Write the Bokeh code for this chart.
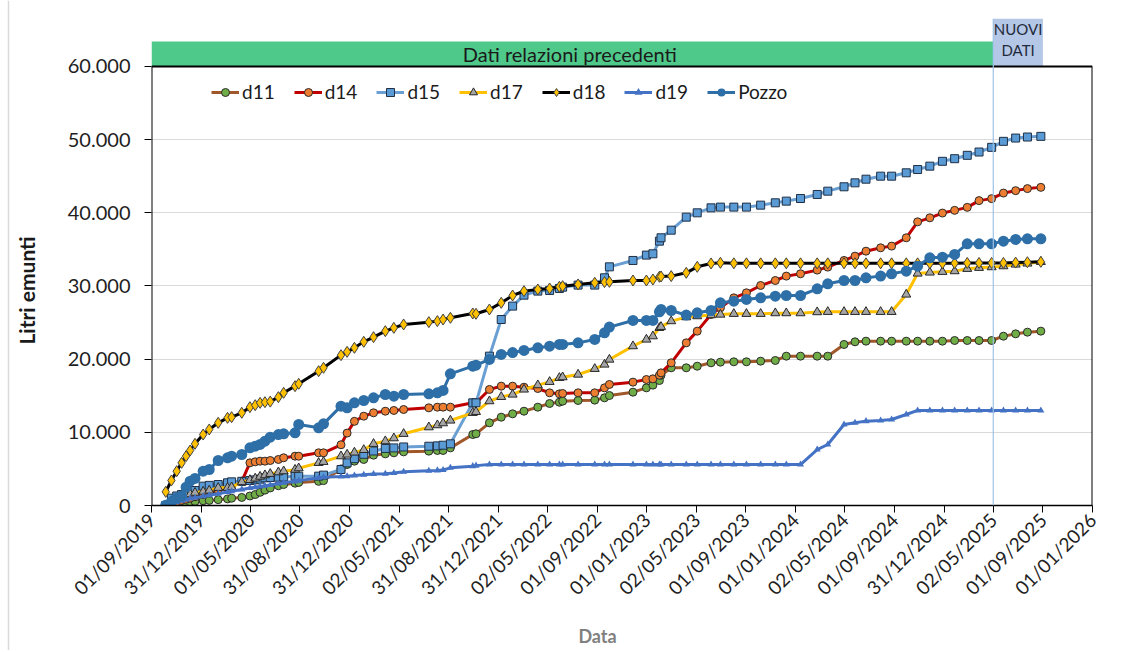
import math
import pandas as pd
from bokeh.plotting import figure
from bokeh.layouts import column, row
from bokeh.models import ColumnDataSource, FixedTicker, Legend, LegendItem, Span, Range1d
from bokeh.core.properties import value
from bokeh.embed import file_html
from bokeh.resources import INLINE

# ---------------- data ----------------
START = "2019-09-01"
END = "2026-01-01"
NEW_DATA_START = "2025-05-02"
NEW_DATA_END = "2025-09-01"

x_tick_labels = ["01/09/2019", "31/12/2019", "01/05/2020", "31/08/2020", "31/12/2020",
                 "02/05/2021", "31/08/2021", "31/12/2021", "02/05/2022", "01/09/2022",
                 "01/01/2023", "02/05/2023", "01/09/2023", "01/01/2024", "02/05/2024",
                 "01/09/2024", "31/12/2024", "02/05/2025", "01/09/2025", "01/01/2026"]
y_tick_values = [0, 10000, 20000, 30000, 40000, 50000, 60000]

early_dates = ["2019-10-06", "2019-10-20", "2019-11-02", "2019-11-14", "2019-11-25",
               "2019-12-05", "2019-12-17", "2020-01-06", "2020-01-21", "2020-02-12",
               "2020-03-06", "2020-03-16", "2020-04-10", "2020-04-30", "2020-05-13",
               "2020-05-25", "2020-06-06", "2020-06-19", "2020-07-09", "2020-07-22",
               "2020-08-19", "2020-08-28", "2020-10-16", "2020-10-28", "2020-12-10",
               "2020-12-25", "2021-01-12", "2021-02-04", "2021-02-28", "2021-03-29",
               "2021-04-19", "2021-05-13", "2021-07-14", "2021-08-04", "2021-08-18"]
mid_dates = ["2021-09-05", "2021-10-30", "2021-11-07", "2021-12-10", "2022-01-08",
             "2022-02-05", "2022-03-05", "2022-04-08", "2022-05-07", "2022-05-31",
             "2022-06-08", "2022-07-16", "2022-08-26", "2022-09-19", "2022-10-01",
             "2022-11-28", "2022-12-31", "2023-01-16", "2023-02-01", "2023-02-05",
             "2023-03-02", "2023-04-08", "2023-05-05"]
late_dates = ["2023-06-08", "2023-07-01", "2023-08-03", "2023-09-03", "2023-10-08",
              "2023-11-13", "2023-12-10", "2024-01-14", "2024-02-24", "2024-03-21",
              "2024-04-30", "2024-05-27", "2024-06-23", "2024-07-29", "2024-08-25",
              "2024-09-30", "2024-10-28", "2024-11-27", "2024-12-28", "2025-01-27",
              "2025-02-27", "2025-03-28", "2025-04-28", "2025-05-27", "2025-06-26",
              "2025-07-25", "2025-08-27"]

d11_early = [0, 100, 200, 300, 400, 500, 550, 650, 700, 800, 900, 1000, 1100, 1300, 1500,
             1800, 2100, 2400, 2700, 2870, 3050, 3150, 3300, 3400, 5000, 5600, 6060, 6290,
             6880, 7060, 7200, 7330, 7430, 7520, 7520]
d11_mid = [7880, 9700, 9800, 11300, 12070, 12530, 12890, 13440, 13940, 14120, 14260, 14350,
           14400, 14720, 15030, 15490, 16080, 16450, 17080, 17810, 18820, 18820, 19040]
d11_late = [19500, 19590, 19640, 19640, 19730, 19820, 20410, 20410, 20410, 20410, 22010,
            22370, 22460, 22460, 22460, 22460, 22460, 22460, 22460, 22550, 22550, 22550,
            22550, 23140, 23460, 23690, 23830]

d14_early = [0, 300, 500, 700, 850, 1000, 1200, 1500, 1700, 2100, 2500, 2700, 3300, 5830,
             5970, 6060, 6060, 6150, 6290, 6520, 6740, 6740, 7200, 7200, 8300, 9900, 11500,
             12210, 12670, 12890, 12990, 13120, 13350, 13440, 13440]
d14_mid = [13440, 14030, 14030, 15860, 16310, 16310, 16170, 15990, 15400, 15260, 15310,
           15400, 15400, 16080, 16540, 16860, 17220, 17310, 17810, 18130, 19500, 22230, 23830]
d14_late = [26110, 27020, 28380, 29070, 30070, 30750, 31350, 31670, 32170, 32580, 33490,
            34080, 34760, 35220, 35450, 36590, 38770, 39320, 39970, 40340, 40750, 41670,
            41940, 42700, 43030, 43310, 43480]

d15_early = [0, 1000, 1300, 1500, 1700, 1900, 2050, 2640, 2750, 2870, 3100, 3230, 3300, 3420,
             3500, 3600, 3780, 3830, 3870, 3900, 4010, 4010, 4010, 4150, 4920, 5830, 6400,
             7000, 7450, 7800, 7870, 8000, 8100, 8150, 8240]
d15_mid = [8430, 14030, 14030, 20410, 25420, 27250, 28750, 29300, 29390, 29660, 29840, 30120,
           30120, 31120, 32620, 33490, 34220, 34400, 36130, 36590, 37630, 39410, 40000]
d15_late = [40680, 40780, 40780, 40780, 41050, 41370, 41600, 41960, 42510, 42960, 43560,
            44100, 44600, 45010, 45010, 45470, 45920, 46380, 47040, 47400, 47860, 48310,
            48950, 49770, 50220, 50360, 50450]

d17_early = [0, 600, 900, 1200, 1400, 1550, 1750, 1900, 2050, 2420, 2420, 2500, 3200, 3500,
             3700, 3950, 4150, 4330, 4550, 4690, 4900, 5100, 5830, 5970, 6740, 6970, 7250,
             7600, 8430, 8800, 9200, 9800, 10700, 10980, 11250]
d17_mid = [11620, 12670, 12800, 14260, 14850, 15170, 15860, 16450, 16900, 17450, 17540,
           17900, 18680, 19270, 19950, 21780, 22690, 23140, 24280, 24420, 25200, 25740, 25880]
d17_late = [26020, 26100, 26200, 26200, 26200, 26290, 26290, 26290, 26430, 26470, 26470,
            26470, 26470, 26470, 26470, 28840, 31710, 31850, 31940, 32030, 32350, 32490,
            32580, 32710, 32940, 33080, 33300]

d18_early = [1870, 3420, 4690, 5830, 6740, 7520, 8430, 9700, 10390, 11300, 11980, 12070,
             12670, 13440, 13710, 14030, 14120, 14200, 14810, 15400, 16310, 16630, 18360,
             18820, 20550, 21000, 21550, 22370, 23010, 23830, 24280, 24740, 25060, 25200, 25420]
d18_mid = [25650, 26240, 26200, 26790, 27700, 28700, 29300, 29520, 29660, 29890, 29980,
           30210, 30440, 30530, 30570, 30750, 30750, 30890, 31260, 31300, 31350, 31800, 32620]
d18_late = [33080, 33170, 33100, 33100, 33100, 33100, 33100, 33100, 33100, 33100, 33100,
            33100, 33100, 33100, 33100, 33100, 33100, 33100, 33100, 33120, 33150, 33150,
            33150, 33150, 33200, 33250, 33300]

d19_early = [0, 250, 450, 650, 800, 950, 1050, 1250, 1400, 1600, 1850, 1950, 2200, 2400,
             2500, 2600, 2700, 2800, 3000, 3100, 3300, 3400, 3800, 3850, 3950, 4000, 4100,
             4200, 4300, 4350, 4450, 4600, 4750, 4800, 4850]
d19_mid = [5150, 5380, 5450, 5600, 5600, 5600, 5600, 5600, 5600, 5600, 5600, 5600, 5600,
           5600, 5600, 5600, 5600, 5600, 5600, 5600, 5600, 5600, 5600]
d19_late = [5600, 5600, 5600, 5600, 5600, 5600, 5600, 5600, 7650, 8340, 11070, 11300, 11530,
            11620, 11750, 12440, 12990, 12990, 12990, 12990, 12990, 12990, 12990, 12990,
            12990, 12990, 12990]

pozzo_early = [50, 500, 1000, 1300, 2500, 3330, 3700, 4690, 4920, 6150, 6520, 6740, 6970,
               7880, 8110, 8340, 8790, 9340, 9700, 9800, 9930, 11070, 10620, 11160, 13580,
               13350, 14030, 14350, 14720, 15170, 14940, 15170, 15260, 15400, 15720]
pozzo_mid = [18000, 19040, 19180, 19960, 20640, 20900, 21190, 21550, 21780, 22010, 22010,
             22230, 22690, 23600, 24380, 25290, 25290, 25290, 26470, 26790, 26650, 26020, 26330]
pozzo_late = [26650, 27700, 27930, 28160, 28380, 28610, 28700, 28700, 29610, 30300, 30750,
              30750, 31120, 31350, 31670, 32030, 32710, 33850, 33940, 34310, 35770, 35770,
              35770, 36130, 36360, 36450, 36450]

series_names = ["d11", "d14", "d15", "d17", "d18", "d19", "Pozzo"]

# ---------------- helpers ----------------
start = pd.Timestamp(START)
def day_of(s):
    return (pd.Timestamp(s) - start).days

all_dates = early_dates + mid_dates + late_dates
xs = [day_of(d) for d in all_dates]
total = day_of(END)
n_int = len(x_tick_labels) - 1
x_ticks = [round(i * total / n_int) for i in range(n_int + 1)]
new_start = day_of(NEW_DATA_START)
new_end = day_of(NEW_DATA_END)

Y_MAX = y_tick_values[-1]
BAND_TOP = 63400
Y_TOP = 66560

FONT = "Lato"
W = 1120
H_ALL = 650
H_MAIN = 616
LAB_W = 40
LEFT = 151
FRAME_W = 941
x_range = Range1d(0, total)

# ---------------- y-axis title strip (with chart-area edge) ----------------
ylab = figure(width=LAB_W, height=H_ALL, output_backend="svg", toolbar_location=None,
              x_range=Range1d(0, LAB_W), y_range=Range1d(0, H_ALL),
              x_axis_location=None, y_axis_location=None, min_border=0,
              outline_line_color=None)
ylab.grid.visible = False
ylab.segment(x0=[8], y0=[0], x1=[8], y1=[H_ALL], line_color="#D9D9D9", line_width=1.5)
ylab.text(x=[26], y=[H_ALL - 290], text=["Litri emunti"], angle=math.pi / 2,
          text_font=value(FONT), text_font_size="21px", text_font_style="bold",
          text_color="#1a1a1a", text_align="center", text_baseline="middle")

# ---------------- main plot ----------------
p = figure(width=W - LAB_W, height=H_MAIN, output_backend="svg", toolbar_location=None,
           x_range=x_range, y_range=Range1d(0, Y_TOP),
           min_border_left=LEFT - LAB_W, min_border_right=W - LEFT - FRAME_W,
           min_border_top=18, min_border_bottom=H_MAIN - 505, outline_line_color=None,
           background_fill_color="white", border_fill_color="white")

# header bands
p.quad(left=[0], right=[new_start], bottom=[Y_MAX], top=[BAND_TOP],
       fill_color="#4FC98A", line_color=None)
p.quad(left=[new_start], right=[new_end], bottom=[Y_MAX], top=[Y_TOP],
       fill_color="#B4C7E7", line_color=None)
p.text(x=[new_start / 2], y=[(Y_MAX + BAND_TOP) / 2], text=["Dati relazioni  precedenti"],
       text_font=value(FONT), text_font_size="20px", text_color="#1a1a1a",
       text_align="center", text_baseline="middle")
p.text(x=[(new_start + new_end) / 2] * 2, y=[65150, 62200], text=["NUOVI", "DATI"],
       text_font=value(FONT), text_font_size="15px", text_color="#1f2a3a",
       text_align="center", text_baseline="middle")

# plot-area frame (left, right, top)
p.segment(x0=[0, total, 0], y0=[0, 0, Y_MAX], x1=[0, total, total], y1=[Y_MAX, Y_MAX, Y_MAX],
          line_color="black", line_width=2)

p.add_layout(Span(location=new_start, dimension="height", line_color="#9DC3E6", line_width=1.2))

styles = {
    "d11": dict(line="#A0582A", marker="circle", size=8, fill="#70AD47", outline="#2b2b2b"),
    "d14": dict(line="#C00000", marker="circle", size=8, fill="#ED7D31", outline="#2b2b2b"),
    "d15": dict(line="#6A9FD4", marker="square", size=8, fill="#5B9BD5", outline="#1f2f45"),
    "d17": dict(line="#FFC000", marker="triangle", size=9, fill="#A5A5A5", outline="#262626"),
    "d18": dict(line="#000000", marker="diamond", size=11, fill="#FFC000", outline="#404040"),
    "d19": dict(line="#4472C4", marker="triangle", size=7, fill="#4472C4", outline=None),
    "Pozzo": dict(line="#2E6FA8", marker="circle", size=11, fill="#2E6FA8", outline=None),
}
values = {
    "d11": d11_early + d11_mid + d11_late,
    "d14": d14_early + d14_mid + d14_late,
    "d15": d15_early + d15_mid + d15_late,
    "d17": d17_early + d17_mid + d17_late,
    "d18": d18_early + d18_mid + d18_late,
    "d19": d19_early + d19_mid + d19_late,
    "Pozzo": pozzo_early + pozzo_mid + pozzo_late,
}

items = []
for name in series_names:
    st = styles[name]
    src = ColumnDataSource(dict(x=xs, y=values[name]))
    lr = p.line("x", "y", source=src, line_color=st["line"], line_width=3)
    sr = p.scatter("x", "y", source=src, marker=st["marker"], size=st["size"],
                   fill_color=st["fill"], line_color=st["outline"], line_width=1)
    items.append(LegendItem(label=name, renderers=[lr, sr]))

legend = Legend(items=items, location=(60, 402), orientation="horizontal",
                glyph_width=28, glyph_height=20, label_standoff=3, spacing=19,
                padding=0, margin=0, border_line_color=None, background_fill_alpha=0,
                label_text_font=FONT, label_text_font_size="19px", label_text_color="#1a1a1a")
p.add_layout(legend)

p.xaxis.ticker = FixedTicker(ticks=x_ticks)
p.xaxis.major_label_overrides = {t: lab for t, lab in zip(x_ticks, x_tick_labels)}
p.xaxis.major_label_orientation = math.pi / 4
p.xaxis.axis_line_color = "black"
p.xaxis.axis_line_width = 1.5
p.xaxis.major_tick_out = 7
p.xaxis.major_tick_in = 0
p.xaxis.major_tick_line_color = "black"
p.xaxis.minor_tick_line_color = None
p.xaxis.major_label_standoff = 4
p.xaxis.major_label_text_font = FONT
p.xaxis.major_label_text_font_size = "19px"
p.xaxis.major_label_text_color = "#1f1f1f"

p.yaxis.ticker = FixedTicker(ticks=y_tick_values)
p.yaxis.major_label_overrides = {v: f"{v:,}".replace(",", ".") for v in y_tick_values}
p.yaxis.axis_line_color = None
p.yaxis.major_tick_out = 7
p.yaxis.major_tick_in = 0
p.yaxis.major_tick_line_color = "black"
p.yaxis.minor_tick_line_color = None
p.yaxis.major_label_standoff = 14
p.yaxis.major_label_text_font = FONT
p.yaxis.major_label_text_font_size = "20px"
p.yaxis.major_label_text_color = "#1f1f1f"

p.xgrid.visible = False
p.ygrid.ticker = FixedTicker(ticks=y_tick_values[1:-1])
p.ygrid.grid_line_color = "#D9D9D9"
p.ygrid.grid_line_width = 1

# ---------------- x-axis title strip ----------------
bottom = figure(width=W - LAB_W, height=H_ALL - H_MAIN, output_backend="svg",
                toolbar_location=None, x_range=x_range, y_range=Range1d(0, 1),
                x_axis_location=None, y_axis_location=None,
                min_border_left=LEFT - LAB_W, min_border_right=W - LEFT - FRAME_W,
                min_border_top=0, min_border_bottom=0, outline_line_color=None)
bottom.grid.visible = False
bottom.text(x=[total * 0.474], y=[0.44], text=["Data"], text_font=value(FONT),
            text_font_size="18px", text_font_style="bold", text_color="#808080",
            text_align="center", text_baseline="middle")

layout = row(ylab, column(p, bottom, spacing=0), spacing=0)
open("out.html", "w").write(file_html(layout, INLINE))
